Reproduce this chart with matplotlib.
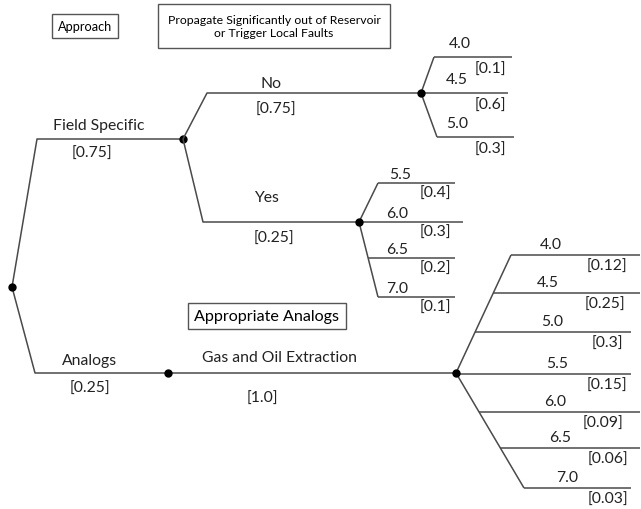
import matplotlib
matplotlib.use('Agg')
import matplotlib.pyplot as plt

# Tree data
approach_labels = ['Field Specific', 'Analogs']
approach_probs = ['[0.75]', '[0.25]']

propagate_labels = ['No', 'Yes']
propagate_probs = ['[0.75]', '[0.25]']

analog_label = 'Gas and Oil Extraction'
analog_prob = '[1.0]'

mags_no = ['4.0', '4.5', '5.0']
probs_no = ['[0.1]', '[0.6]', '[0.3]']

mags_yes = ['5.5', '6.0', '6.5', '7.0']
probs_yes = ['[0.4]', '[0.3]', '[0.2]', '[0.1]']

mags_analog = ['4.0', '4.5', '5.0', '5.5', '6.0', '6.5', '7.0']
probs_analog = ['[0.12]', '[0.25]', '[0.3]', '[0.15]', '[0.09]', '[0.06]', '[0.03]']

LINE = '#4a4a4a'
FS = 11.3
plt.rcParams['font.family'] = ['Lato', 'DejaVu Sans']

fig = plt.figure(figsize=(6.41, 5.10), dpi=100)
ax = fig.add_axes([0, 0, 1, 1])
ax.set_xlim(0, 641)
ax.set_ylim(510, 0)
ax.axis('off')


def seg(xs, ys):
    ax.plot(xs, ys, color=LINE, lw=1.1, solid_capstyle='butt')


def dot(x, y):
    ax.plot(x, y, 'o', color='black', ms=5)


def txt(x, y, s, size=FS, **kw):
    ax.text(x, y, s, fontsize=size, ha='center', va='center', color='#222222', **kw)


def fan(x0, y0, ys, top_knee, bot_knee, ends, mags, probs, mag_x, prob_x, mag_up, prob_down):
    # diagonal edges from the node to the extreme knees
    seg([x0, top_knee], [y0, ys[0]])
    seg([x0, bot_knee], [y0, ys[-1]])
    for y, xe, m, p, mx, px in zip(ys, ends, mags, probs, mag_x, prob_x):
        if y < y0:
            xk = x0 + (top_knee - x0) * (y0 - y) / (y0 - ys[0])
        elif y > y0:
            xk = x0 + (bot_knee - x0) * (y - y0) / (ys[-1] - y0)
        else:
            xk = x0
        seg([xk, xe], [y, y])
        txt(mx, y - mag_up, m)
        txt(px, y + prob_down, p)
    dot(x0, y0)


# root and first level
root = (12, 288)
fs_y, an_y = 140, 374
seg([root[0], 37, 183], [root[1], fs_y, fs_y])
seg([root[0], 35, 456], [root[1], an_y, an_y])
dot(*root)
dot(183, fs_y)
dot(168, an_y)
txt(99, 126, approach_labels[0])
txt(92, 154, approach_probs[0])
txt(90, 361, approach_labels[1])
txt(90, 389, approach_probs[1])

# second level
no_y, yes_y = 94, 223
seg([183, 207, 421], [fs_y, no_y, no_y])
seg([183, 203, 359], [fs_y, yes_y, yes_y])
txt(271, 84, propagate_labels[0])
txt(276, 110, propagate_probs[0])
txt(266, 198, propagate_labels[1])
txt(274, 239, propagate_probs[1])
txt(280, 358, analog_label)
txt(262, 399, analog_prob)

# magnitude fans
fan(421, no_y, [58, 94, 138], 434, 437, [512, 508, 514], mags_no, probs_no,
    [460, 457, 457], [490, 490, 490], 14, 12)
fan(359, yes_y, [184, 223, 259, 298], 378, 378, [455, 463, 455, 455], mags_yes, probs_yes,
    [400, 397, 397, 397], [435, 435, 435, 435], 9, 10)
fan(456, an_y, [256, 294, 333, 375, 413, 449, 489], 511, 524,
    [640, 640, 631, 631, 640, 640, 631], mags_analog, probs_analog,
    [551, 548, 552, 557, 555, 560, 567], [607, 605, 607, 607, 603, 608, 608], 11, 11)

# header boxes
ax.text(85, 27, 'Approach', fontsize=9.2, ha='center', va='center',
        bbox=dict(boxstyle='square,pad=0.45', fc='white', ec='#555555', lw=1))
ax.text(274, 27, 'Propagate Significantly out of Reservoir\nor Trigger Local Faults',
        fontsize=8.8, ha='center', va='center', linespacing=1.3,
        bbox=dict(boxstyle='square,pad=0.75', fc='white', ec='#555555', lw=1))
ax.text(267, 317, 'Appropriate Analogs', fontsize=11.6, ha='center', va='center',
        bbox=dict(boxstyle='square,pad=0.4', fc='white', ec='#555555', lw=1))

fig.savefig('out.png', dpi=100)
